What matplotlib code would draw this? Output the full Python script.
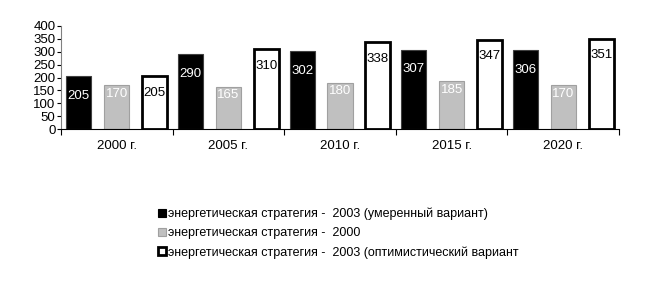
import matplotlib
matplotlib.use("Agg")
import matplotlib.pyplot as plt
import numpy as np
from matplotlib.patches import Patch

plt.rcParams['font.family'] = ['Liberation Sans', 'DejaVu Sans']

categories = ["2000 г.", "2005 г.", "2010 г.", "2015 г.", "2020 г."]
moderate_2003 = [205, 290, 302, 307, 306]
strategy_2000 = [170, 165, 180, 185, 170]
optimistic_2003 = [205, 310, 338, 347, 351]
series_names = [
    "энергетическая стратегия -  2003 (умеренный вариант)",
    "энергетическая стратегия -  2000",
    "энергетическая стратегия -  2003 (оптимистический вариант",
]
yticks = [0, 50, 100, 150, 200, 250, 300, 350, 400]

fig = plt.figure(figsize=(6.61, 2.90), dpi=100)
ax = fig.add_axes([61/661, 1-129/290, 558/661, 103/290])

x = np.arange(len(categories)) + 0.5
w = 0.225
off = 0.34

b1 = ax.bar(x - off, moderate_2003, w, color='black', edgecolor='#404040', linewidth=0.8)
b2 = ax.bar(x, strategy_2000, w, color='#c0c0c0', edgecolor='#a0a0a0', linewidth=0.8)
b3 = ax.bar(x + off, optimistic_2003, w, color='white', edgecolor='black', linewidth=2.0)

def labels(bars, vals, color, drop):
    for r, v in zip(bars, vals):
        ax.annotate(str(v), (r.get_x() + r.get_width()/2, v), xytext=(0, -drop),
                    textcoords='offset points', ha='center', va='center',
                    color=color, fontsize=9.5)

labels(b1, moderate_2003, 'white', 14)
labels(b2, strategy_2000, 'white', 6)
labels(b3, optimistic_2003, 'black', 12)

ax.set_xlim(0, len(categories))
ax.set_ylim(0, 400)
ax.set_yticks(yticks)
ax.set_yticklabels([str(t) for t in yticks], fontsize=9.5)
ax.set_xticks(np.arange(len(categories) + 1))
ax.set_xticklabels([])
ax.set_xticks(x, minor=True)
ax.set_xticklabels(categories, minor=True, fontsize=9.5)
ax.tick_params(axis='x', which='minor', length=0, pad=8)
ax.tick_params(axis='x', which='major', length=4, direction='out', color='black', width=0.8)
ax.tick_params(axis='y', length=3, direction='out', pad=1, width=0.8)
for s in ['top', 'right']:
    ax.spines[s].set_visible(False)
ax.spines['left'].set_color('#808080')
ax.spines['bottom'].set_color('black')

handles = [
    Patch(facecolor='black', edgecolor='black', linewidth=0.8),
    Patch(facecolor='#c0c0c0', edgecolor='#a0a0a0', linewidth=0.8),
    Patch(facecolor='white', edgecolor='black', linewidth=2.0),
]
fig.legend(handles, series_names, loc='upper left', bbox_to_anchor=(158/661, 1-208/290),
           frameon=False, fontsize=9, handlelength=0.6, handleheight=0.6,
           handletextpad=0.2, labelspacing=0.55, borderpad=0, borderaxespad=0)

fig.savefig("out.png", dpi=100)
